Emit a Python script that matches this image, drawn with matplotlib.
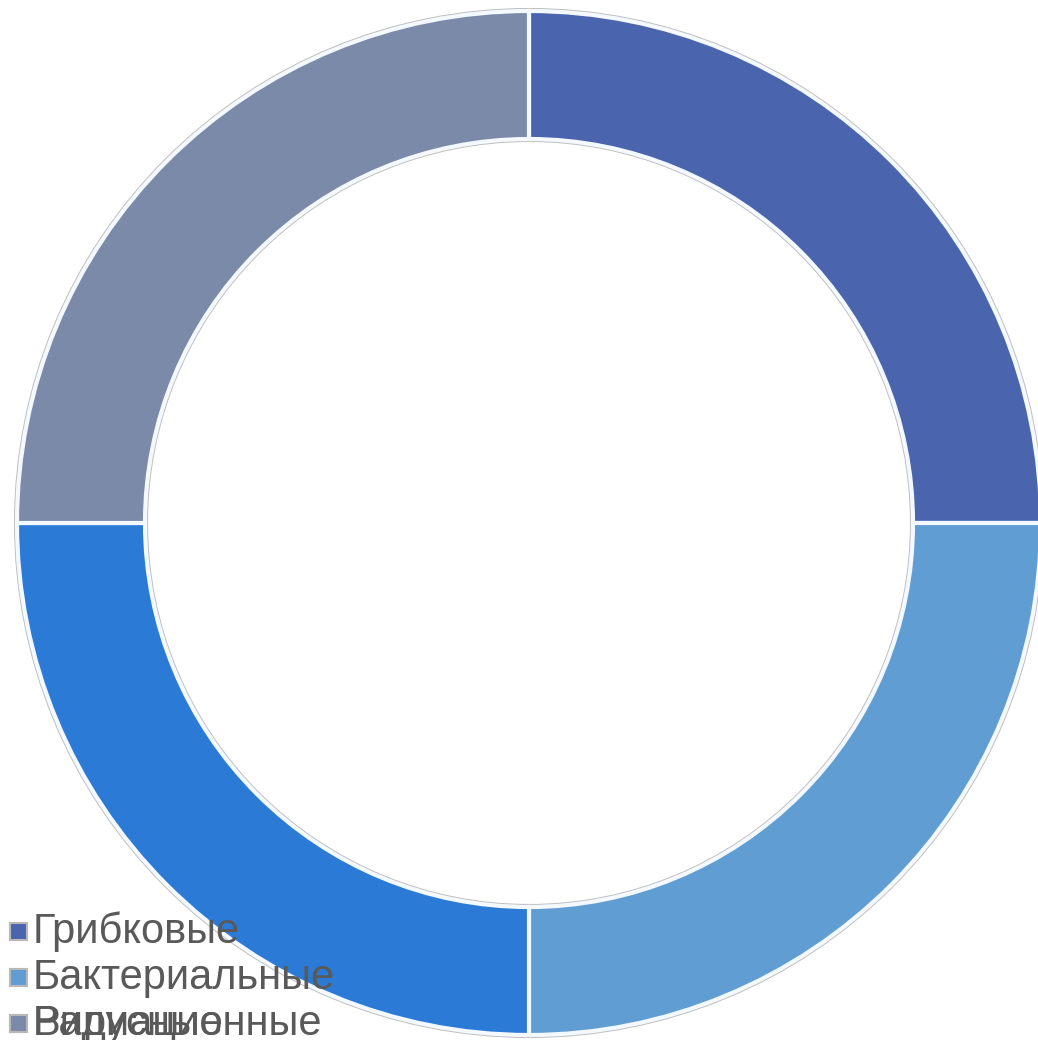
import matplotlib.pyplot as plt
from matplotlib.patches import Circle, Rectangle

# Chart data
categories = ['Грибковые', 'Бактериальные', 'Вирусные', 'Радиационные']
shares = [25, 25, 25, 25]
slice_colors = ['#4a64ae', '#5f9dd3', '#2b7bd6', '#7b8aa8']

# legend rows (the last two entries overlap, as in the source image)
legend_rows = [0, 1, 2, 2]

W, H = 1038, 1040
fig = plt.figure(figsize=(W / 100, H / 100), dpi=100)
ax = fig.add_axes([0, 0, 1, 1])

cx, cy = 529, H - 523
r_out = 512
ring = 0.25

# thin grey outline around the ring
ax.add_patch(Circle((cx, cy), r_out + 2, fill=False, ec='#bfbfbf', lw=1.5, zorder=1))
ax.add_patch(Circle((cx, cy), r_out * (1 - ring) - 2, fill=False, ec='#bfbfbf', lw=1.5, zorder=1))

ax.pie(shares, colors=slice_colors, startangle=90, counterclock=False,
       radius=r_out, center=(cx, cy), frame=True,
       wedgeprops=dict(width=r_out * ring, edgecolor='#f4f8ff', linewidth=3))
ax.set_xlim(0, W)
ax.set_ylim(0, H)
ax.axis('off')

# manual legend in the lower left corner
x0 = 10
y_top = H - 932
step = 46
for label, color, row in zip(categories, slice_colors, legend_rows):
    y = y_top - row * step
    ax.add_patch(Rectangle((x0, y - 8), 17, 17, fc=color, ec='#b8b8b8', lw=1.5, zorder=5))
    ax.text(x0 + 23, y, label, fontsize=30, color='#595959', va='center', ha='left',
            family=['Liberation Sans', 'DejaVu Sans'], zorder=5)

fig.savefig('out.png', dpi=100)
